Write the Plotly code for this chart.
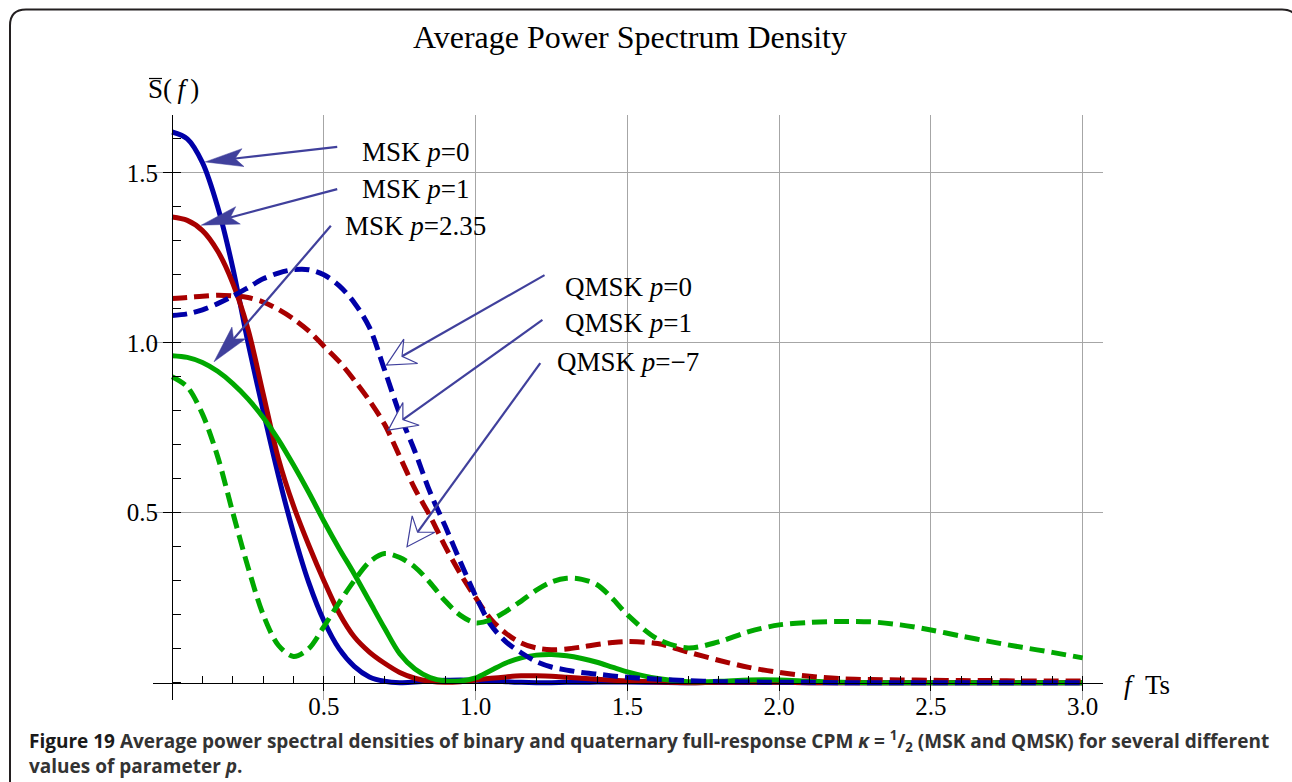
import plotly.graph_objects as go

# ---------------- data ----------------
f_ts = [0.0, 0.05, 0.1, 0.15, 0.2, 0.25, 0.3, 0.35, 0.4, 0.45, 0.5, 0.55, 0.6, 0.65, 0.7,
        0.75, 0.8, 0.85, 0.9, 0.95, 1.0, 1.05, 1.1, 1.15, 1.2, 1.25, 1.3, 1.35, 1.4, 1.45,
        1.5, 1.6, 1.7, 1.8, 1.9, 2.0, 2.1, 2.2, 2.3, 2.4, 2.5, 2.6, 2.7, 2.8, 2.9, 3.0]

msk_p0 = [1.62, 1.60, 1.53, 1.40, 1.22, 1.00, 0.80, 0.61, 0.44, 0.295, 0.182, 0.10, 0.048, 0.017, 0.004,
          0.0, 0.002, 0.005, 0.007, 0.008, 0.007, 0.005, 0.003, 0.001, 0.0, 0.0, 0.001, 0.001, 0.002, 0.002,
          0.002, 0.001, 0.0, 0.001, 0.001, 0.001, 0.0, 0.0, 0.0, 0.0, 0.0, 0.0, 0.0, 0.0, 0.0, 0.0]

msk_p1 = [1.37, 1.36, 1.33, 1.27, 1.175, 1.04, 0.85, 0.66, 0.52, 0.405, 0.30, 0.205, 0.135, 0.09, 0.057,
          0.03, 0.013, 0.004, 0.001, 0.003, 0.008, 0.013, 0.017, 0.02, 0.02, 0.019, 0.016, 0.013, 0.01, 0.007,
          0.005, 0.002, 0.0, 0.001, 0.001, 0.001, 0.0, 0.0, 0.0, 0.0, 0.0, 0.0, 0.0, 0.0, 0.0, 0.0]

msk_p235 = [0.962, 0.957, 0.942, 0.916, 0.88, 0.835, 0.78, 0.715, 0.64, 0.56, 0.475, 0.395, 0.32, 0.24, 0.16,
            0.085, 0.04, 0.015, 0.005, 0.005, 0.014, 0.036, 0.058, 0.073, 0.081, 0.083, 0.079, 0.071, 0.06, 0.046,
            0.032, 0.012, 0.003, 0.004, 0.008, 0.008, 0.004, 0.001, 0.0, 0.0, 0.0, 0.0, 0.0, 0.0, 0.0, 0.0]

qmsk_p0 = [1.08, 1.085, 1.097, 1.115, 1.137, 1.162, 1.188, 1.205, 1.215, 1.215, 1.20, 1.168, 1.118, 1.045, 0.92,
           0.79, 0.68, 0.56, 0.46, 0.355, 0.255, 0.17, 0.12, 0.088, 0.062, 0.046, 0.037, 0.03, 0.025, 0.02,
           0.016, 0.01, 0.006, 0.003, 0.002, 0.001, 0.001, 0.0, 0.0, 0.0, 0.0, 0.0, 0.0, 0.0, 0.0, 0.0]

qmsk_p1 = [1.13, 1.133, 1.137, 1.14, 1.138, 1.133, 1.12, 1.098, 1.07, 1.035, 0.99, 0.945, 0.89, 0.83, 0.76,
           0.665, 0.57, 0.49, 0.40, 0.32, 0.25, 0.187, 0.145, 0.117, 0.102, 0.097, 0.099, 0.105, 0.112, 0.118,
           0.121, 0.115, 0.09, 0.066, 0.045, 0.03, 0.019, 0.012, 0.009, 0.008, 0.007, 0.006, 0.006, 0.005, 0.005, 0.005]

qmsk_m7 = [0.90, 0.87, 0.79, 0.665, 0.50, 0.34, 0.20, 0.11, 0.077, 0.10, 0.165, 0.235, 0.30, 0.355, 0.38,
           0.368, 0.34, 0.294, 0.24, 0.198, 0.176, 0.185, 0.21, 0.24, 0.272, 0.296, 0.307, 0.304, 0.288, 0.248,
           0.20, 0.128, 0.102, 0.12, 0.15, 0.17, 0.177, 0.18, 0.179, 0.17, 0.155, 0.137, 0.12, 0.104, 0.089, 0.073]

x_tickvals = [0.5, 1.0, 1.5, 2.0, 2.5, 3.0]
x_ticktext = ["0.5", "1.0", "1.5", "2.0", "2.5", "3.0"]
y_tickvals = [0.5, 1.0, 1.5]
y_ticktext = ["0.5", "1.0", "1.5"]

# ---------------- layout constants ----------------
W, H = 1292, 782
ML, MR, MT, MB = 153, 189, 115, 82
XR = [-0.063, 3.067]
YR = [-0.051, 1.670]
PW, PH = W - ML - MR, H - MT - MB
SX = PW / (XR[1] - XR[0])
SY = PH / (YR[1] - YR[0])

BLUE, RED, GREEN = "#0000A8", "#A80000", "#00A800"
ARROW = "#40409C"
SERIF = "Liberation Serif"
SANS = "Open Sans, DejaVu Sans Condensed, sans-serif"

fig = go.Figure()

series = [
    (msk_p0, BLUE, "solid", "MSK p=0"),
    (msk_p1, RED, "solid", "MSK p=1"),
    (msk_p235, GREEN, "solid", "MSK p=2.35"),
    (qmsk_p1, RED, "15px,7px", "QMSK p=1"),
    (qmsk_p0, BLUE, "15px,7px", "QMSK p=0"),
    (qmsk_m7, GREEN, "15px,7px", "QMSK p=-7"),
]
for ys, col, dash, name in series:
    fig.add_trace(go.Scatter(x=f_ts, y=ys, mode="lines", name=name,
                             line=dict(color=col, width=5, dash=dash, shape="spline", smoothing=0.9),
                             hoverinfo="skip"))

# ---------------- arrows (tail, tip in data coords) ----------------
arrows = [
    ((0.544, 1.576), (0.109, 1.532), "filled"),
    ((0.544, 1.452), (0.096, 1.346), "filled"),
    ((0.523, 1.344), (0.138, 0.944), "filled"),
    ((1.227, 1.199), (0.706, 0.934), "open"),
    ((1.220, 1.067), (0.712, 0.743), "open"),
    ((1.213, 0.940), (0.774, 0.400), "open"),
]
shapes = []
for tail, tip, kind in arrows:
    dx = (tail[0] - tip[0]) * SX
    dy = (tail[1] - tip[1]) * SY
    n = (dx * dx + dy * dy) ** 0.5
    ux, uy = dx / n, dy / n
    vx, vy = -uy, ux
    if kind == "filled":
        L, Wd, N = 38, 9, 30
    else:
        L, Wd, N = 28, 14, 18
    pts = [(0, 0), (L * ux + Wd * vx, L * uy + Wd * vy), (N * ux, N * uy), (L * ux - Wd * vx, L * uy - Wd * vy)]
    path = "M" + " L".join(f"{px:.2f},{py:.2f}" for px, py in pts) + " Z"
    notch = (tip[0] + N * ux / SX, tip[1] + N * uy / SY)
    shapes.append(dict(type="line", xref="x", yref="y", x0=tail[0], y0=tail[1], x1=notch[0], y1=notch[1],
                       line=dict(color=ARROW, width=2.2)))
    if kind == "filled":
        shapes.append(dict(type="path", xref="x", yref="y", xsizemode="pixel", ysizemode="pixel",
                           xanchor=tip[0], yanchor=tip[1], path=path, fillcolor=ARROW,
                           line=dict(color=ARROW, width=0.5)))
    else:
        shapes.append(dict(type="path", xref="x", yref="y", xsizemode="pixel", ysizemode="pixel",
                           xanchor=tip[0], yanchor=tip[1], path=path, fillcolor="white",
                           line=dict(color=ARROW, width=1.2)))

# rounded frame around the whole figure (pixel offsets from the top-left corner of the plot area)
fl, fr, ft, fb, rr = 10 - ML, 1298 - ML, MT - 9.5, -(800 - MT), 16
frame_path = (f"M{fl},{fb} L{fl},{ft - rr} Q{fl},{ft} {fl + rr},{ft} L{fr - rr},{ft} "
              f"Q{fr},{ft} {fr},{ft - rr} L{fr},{fb}")
shapes.append(dict(type="path", xref="paper", yref="paper", xsizemode="pixel", ysizemode="pixel",
                   xanchor=0, yanchor=1, path=frame_path, fillcolor="rgba(0,0,0,0)",
                   line=dict(color="#231F20", width=2)))

# overbar of the S in the y-axis label
shapes.append(dict(type="line", xref="paper", yref="paper", xsizemode="pixel", ysizemode="pixel",
                   xanchor=0, yanchor=1, x0=149 - ML, x1=162 - ML, y0=MT - 78.5, y1=MT - 78.5,
                   line=dict(color="black", width=1.2)))

def px2paper_x(px):
    return (px - ML) / PW

def px2paper_y(py):
    return (H - MB - py) / PH

labels = [
    ("MSK <i>p</i>=0", 0.620, 1.561),
    ("MSK <i>p</i>=1", 0.620, 1.452),
    ("MSK <i>p</i>=2.35", 0.564, 1.343),
    ("QMSK <i>p</i>=0", 1.289, 1.165),
    ("QMSK <i>p</i>=1", 1.289, 1.058),
    ("QMSK <i>p</i>=\u22127", 1.263, 0.944),
]
annotations = []
for txt, ax_, ay_ in labels:
    annotations.append(dict(text=txt, x=ax_, y=ay_, xref="x", yref="y", xanchor="left", yanchor="middle",
                            showarrow=False, font=dict(family=SERIF, size=27, color="black")))

annotations += [
    dict(text="Average Power Spectrum Density", x=px2paper_x(629.5), y=px2paper_y(37), xref="paper", yref="paper",
         xanchor="center", yanchor="middle", showarrow=False, font=dict(family=SERIF, size=32, color="black")),
    dict(text="S(\u2009<i>f</i>\u2009)", x=px2paper_x(146), y=px2paper_y(89.5),
         xref="paper", yref="paper", xanchor="left", yanchor="middle", showarrow=False,
         font=dict(family=SERIF, size=27, color="black")),
    dict(text="<i>f</i>\u00a0\u00a0Ts", x=px2paper_x(1122), y=px2paper_y(685), xref="paper", yref="paper",
         xanchor="left", yanchor="middle", showarrow=False, font=dict(family=SERIF, size=27, color="black")),
    dict(text=('<span style="color:#1a1a1a">Figure 19</span> Average power spectral densities of binary and '
               'quaternary full-response CPM <i>\u03ba</i> = <sup>1</sup>/<sub>2</sub> (MSK and QMSK) for several '
               'different<br>values of parameter <i>p</i>.'),
         x=px2paper_x(27), y=px2paper_y(753), xref="paper", yref="paper", xanchor="left", yanchor="middle",
         align="left", showarrow=False, font=dict(family=SANS, size=19, color="#333333", weight=700)),
]

tickfont = dict(family=SERIF, size=25, color="black")
fig.update_layout(
    width=W, height=H, margin=dict(l=ML, r=MR, t=MT, b=MB, pad=0),
    paper_bgcolor="white", plot_bgcolor="white", showlegend=False,
    xaxis=dict(range=XR, showgrid=True, gridcolor="#A6A6A6", gridwidth=1, zeroline=False,
               tickmode="array", tickvals=x_tickvals, ticktext=x_ticktext, ticks="outside", ticklen=7,
               tickwidth=1, tickcolor="black", showline=True, linecolor="black", linewidth=1.3,
               anchor="free", position=-YR[0] / (YR[1] - YR[0]), tickfont=tickfont,
               ticklabelstandoff=-6,
               minor=dict(tickmode="linear", tick0=0, dtick=0.1, ticks="inside", ticklen=7,
                          tickcolor="black", tickwidth=1, showgrid=False)),
    yaxis=dict(range=YR, showgrid=True, gridcolor="#A6A6A6", gridwidth=1, zeroline=False,
               tickmode="array", tickvals=y_tickvals, ticktext=y_ticktext, ticks="outside", ticklen=9,
               tickwidth=1, tickcolor="black", showline=True, linecolor="black", linewidth=1.3,
               anchor="free", position=-XR[0] / (XR[1] - XR[0]), tickfont=tickfont,
               minor=dict(tickmode="linear", tick0=0, dtick=0.1, ticks="inside", ticklen=8,
                          tickcolor="black", tickwidth=1, showgrid=False)),
    shapes=shapes, annotations=annotations,
)

fig.write_html("out.html")
